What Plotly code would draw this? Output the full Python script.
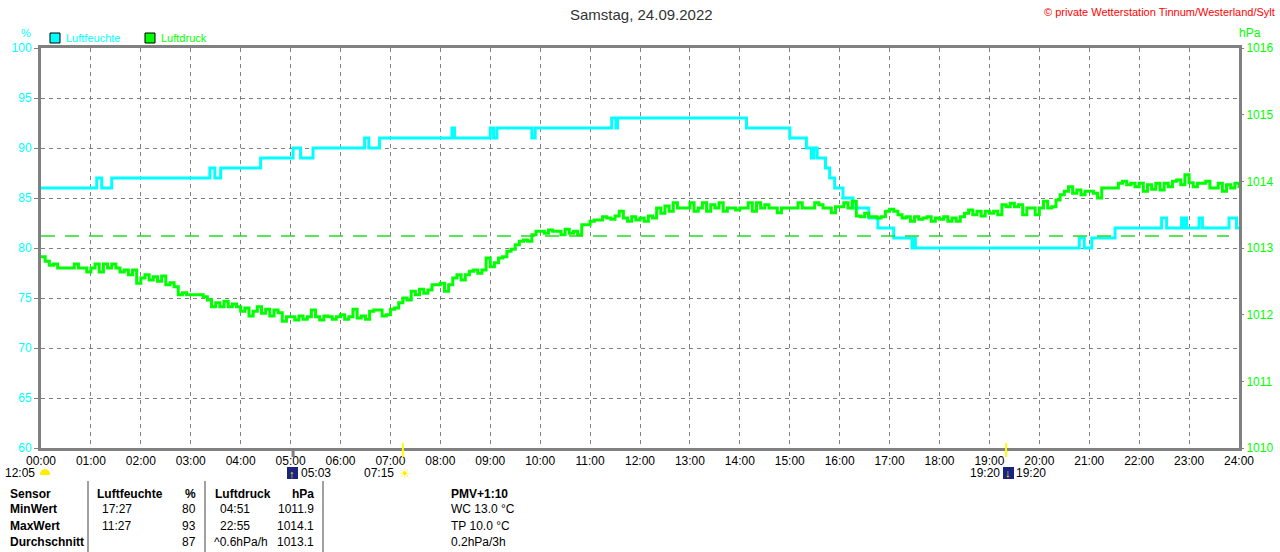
import plotly.graph_objects as go

# Luftfeuchte (%), Stufenwerte: Zeitpunkt der Änderung -> neuer Wert
feuchte_zeit = ["00:00", "01:07", "01:13", "01:25", "03:23", "03:29", "03:36", "04:24",
                "05:03", "05:12", "05:27", "06:29", "06:34", "06:47", "08:14", "08:17",
                "09:00", "09:04", "09:08", "09:50", "09:54", "11:26", "11:31", "11:33",
                "14:08", "15:00", "15:20", "15:26", "15:29", "15:33", "15:43", "15:48",
                "15:54", "16:04", "16:16", "16:35", "16:46", "17:05", "17:27", "17:29",
                "17:31", "20:48", "20:54", "21:03", "21:31", "22:27", "22:33", "22:51",
                "22:53", "22:55", "22:57", "23:12", "23:16", "23:48", "23:57", "24:00"]
feuchte_wert = [86, 87, 86, 87, 88, 87, 88, 89,
                90, 89, 90, 91, 90, 91, 92, 91,
                92, 91, 92, 91, 92, 93, 92, 93,
                92, 91, 90, 89, 90, 89, 88, 87,
                86, 85, 84, 83, 82, 81, 80, 81,
                80, 81, 80, 81, 82, 83, 82, 83,
                82, 83, 82, 83, 82, 83, 82, 82]

# Luftdruck (hPa), alle 5 Minuten, eine Zeile pro Stunde
druck_stunden = [
    [1012.87, 1012.80, 1012.74, 1012.76, 1012.70, 1012.70, 1012.70, 1012.70, 1012.76, 1012.70, 1012.70, 1012.64],
    [1012.70, 1012.76, 1012.64, 1012.76, 1012.70, 1012.76, 1012.70, 1012.64, 1012.67, 1012.60, 1012.67, 1012.47],
    [1012.55, 1012.60, 1012.52, 1012.57, 1012.50, 1012.58, 1012.45, 1012.48, 1012.42, 1012.30, 1012.33, 1012.30],
    [1012.30, 1012.30, 1012.30, 1012.27, 1012.22, 1012.12, 1012.18, 1012.12, 1012.20, 1012.12, 1012.16, 1012.12],
    [1012.05, 1012.10, 1011.98, 1012.05, 1012.12, 1012.02, 1012.08, 1011.98, 1012.07, 1012.03, 1011.90, 1011.97],
    [1011.97, 1011.92, 1011.98, 1011.93, 1011.97, 1012.07, 1011.97, 1011.92, 1011.98, 1011.97, 1011.93, 1011.97],
    [1012.00, 1011.93, 1011.97, 1012.08, 1011.95, 1011.98, 1011.93, 1012.05, 1012.07, 1012.07, 1011.98, 1012.00],
    [1012.08, 1012.10, 1012.18, 1012.25, 1012.22, 1012.35, 1012.30, 1012.38, 1012.32, 1012.37, 1012.45, 1012.45],
    [1012.47, 1012.35, 1012.45, 1012.55, 1012.60, 1012.52, 1012.60, 1012.65, 1012.67, 1012.62, 1012.67, 1012.85],
    [1012.72, 1012.78, 1012.85, 1012.87, 1012.95, 1012.98, 1013.05, 1013.10, 1013.12, 1013.10, 1013.20, 1013.25],
    [1013.25, 1013.22, 1013.27, 1013.25, 1013.25, 1013.20, 1013.28, 1013.22, 1013.25, 1013.20, 1013.35, 1013.35],
    [1013.40, 1013.42, 1013.42, 1013.47, 1013.45, 1013.43, 1013.48, 1013.55, 1013.45, 1013.40, 1013.47, 1013.42],
    [1013.45, 1013.40, 1013.48, 1013.45, 1013.60, 1013.52, 1013.63, 1013.55, 1013.68, 1013.60, 1013.60, 1013.60],
    [1013.68, 1013.55, 1013.60, 1013.68, 1013.55, 1013.65, 1013.60, 1013.68, 1013.55, 1013.60, 1013.60, 1013.57],
    [1013.60, 1013.60, 1013.68, 1013.55, 1013.68, 1013.60, 1013.65, 1013.60, 1013.60, 1013.53, 1013.60, 1013.60],
    [1013.60, 1013.60, 1013.68, 1013.60, 1013.60, 1013.60, 1013.68, 1013.65, 1013.60, 1013.60, 1013.53, 1013.62],
    [1013.62, 1013.68, 1013.60, 1013.70, 1013.48, 1013.47, 1013.52, 1013.47, 1013.47, 1013.45, 1013.47, 1013.55],
    [1013.58, 1013.55, 1013.50, 1013.45, 1013.47, 1013.40, 1013.47, 1013.43, 1013.45, 1013.47, 1013.40, 1013.45],
    [1013.43, 1013.47, 1013.40, 1013.45, 1013.40, 1013.47, 1013.52, 1013.57, 1013.50, 1013.55, 1013.48, 1013.55],
    [1013.52, 1013.55, 1013.50, 1013.65, 1013.62, 1013.67, 1013.62, 1013.65, 1013.50, 1013.60, 1013.60, 1013.50],
    [1013.60, 1013.70, 1013.60, 1013.62, 1013.72, 1013.80, 1013.85, 1013.92, 1013.82, 1013.87, 1013.80, 1013.85],
    [1013.85, 1013.82, 1013.75, 1013.90, 1013.90, 1013.90, 1013.90, 1013.97, 1014.00, 1013.95, 1013.97, 1013.92],
    [1013.97, 1013.85, 1013.95, 1013.88, 1013.97, 1013.87, 1013.97, 1013.92, 1014.00, 1014.02, 1013.95, 1014.10],
    [1013.98, 1013.92, 1013.97, 1013.97, 1014.00, 1013.90, 1013.90, 1013.97, 1013.85, 1013.95, 1013.90, 1013.97],
]
druck_ende = 1013.90
druck_mittel = 1013.18

stunden_labels = ["%02d:00" % h for h in range(25)]

tabelle = [
    ["Sensor", "Luftfeuchte", "%", "Luftdruck", "hPa", "PMV+1:10"],
    ["MinWert", "17:27", "80", "04:51", "1011.9", "WC 13.0 °C"],
    ["MaxWert", "11:27", "93", "22:55", "1014.1", "TP 10.0 °C"],
    ["Durchschnitt", "", "87", "^0.6hPa/h", "1013.1", "0.2hPa/3h"],
]

CYAN = "#00ffff"
GRUEN = "#00ff00"
GRAU = "#808080"

W, H = 1280, 552
L, R, T, B = 41, 41, 48, 104


def px(x):
    return (x - L) / (W - L - R)


def py(y):
    return (H - B - y) / (H - T - B)


def in_stunden(s):
    h, m = s.split(":")
    return int(h) + int(m) / 60


druck = [v for zeile in druck_stunden for v in zeile] + [druck_ende]
druck_x = [i * 5 / 60 for i in range(len(druck))]
feuchte_x = [in_stunden(t) for t in feuchte_zeit]

fig = go.Figure()
fig.add_trace(go.Scatter(x=feuchte_x, y=feuchte_wert, mode="lines", line_shape="hv",
                         line=dict(color=CYAN, width=3), yaxis="y"))
fig.add_trace(go.Scatter(x=druck_x, y=druck, mode="lines", line_shape="hv",
                         line=dict(color=GRUEN, width=3), yaxis="y2"))

shapes = []
# Mittelwert Luftdruck
shapes.append(dict(type="line", xref="x", yref="y2", x0=0, x1=23.8, y0=druck_mittel, y1=druck_mittel,
                   line=dict(color="#22dd22", width=1.5, dash="14px,10px")))
# Legende
shapes.append(dict(type="rect", xref="paper", yref="paper", x0=px(50), x1=px(60), y0=py(43), y1=py(33),
                   fillcolor=CYAN, line=dict(color="black", width=1)))
shapes.append(dict(type="rect", xref="paper", yref="paper", x0=px(145), x1=px(155), y0=py(43), y1=py(33),
                   fillcolor=GRUEN, line=dict(color="black", width=1)))
# Mond / Sonne Markierungen
shapes.append(dict(type="line", xref="x", yref="paper", x0=in_stunden("05:03"), x1=in_stunden("05:03"),
                   y0=py(448), y1=py(457), line=dict(color=GRAU, width=3)))
for t in ["07:15", "19:20"]:
    shapes.append(dict(type="line", xref="x", yref="paper", x0=in_stunden(t), x1=in_stunden(t),
                       y0=py(443), y1=py(457), line=dict(color="#ffff00", width=2)))
shapes.append(dict(type="circle", xref="paper", yref="paper", x0=px(40), x1=px(50), y0=py(479), y1=py(469),
                   fillcolor="#ffee00", line=dict(width=0)))
shapes.append(dict(type="rect", xref="paper", yref="paper", x0=px(39), x1=px(51), y0=py(481), y1=py(475),
                   fillcolor="white", line=dict(width=0)))
for x0 in [287, 1003]:
    shapes.append(dict(type="rect", xref="paper", yref="paper", x0=px(x0), x1=px(x0 + 11), y0=py(479), y1=py(467),
                       fillcolor="#1a237e", line=dict(width=0)))
# Tabellenlinien
for x in [88, 205, 323]:
    shapes.append(dict(type="line", xref="paper", yref="paper", x0=px(x), x1=px(x), y0=py(481), y1=py(552),
                       line=dict(color="#a0a0a0", width=2)))

annotations = []


def text(x, y, s, farbe="black", groesse=12, anker="left", fett=False):
    fam = "Liberation Sans"
    if fett:
        s = "<b>" + s + "</b>"
    annotations.append(dict(x=px(x), y=py(y), xref="paper", yref="paper", text=s, showarrow=False,
                            xanchor=anker, yanchor="middle",
                            font=dict(family=fam, size=groesse, color=farbe)))


text(641, 15, "Samstag, 24.09.2022", "#333333", 15, "center")
text(1277, 12, "© private Wetterstation Tinnum/Westerland/Sylt", "#ff0000", 11, "right")
text(64, 38, "Luftfeuchte", CYAN, 11)
text(159, 38, "Luftdruck", GRUEN, 11)
text(26, 33, "%", CYAN, 11, "center")
text(1250, 33, "hPa", GRUEN, 12, "center")

text(37, 473, "12:05", "black", 12, "right")
text(299, 473, "05:03", "black", 12)
text(396, 473, "07:15", "black", 12, "right")
text(405, 473, "☀", "#ffee00", 13, "center")
text(292, 474, "↑", "#ffee00", 11, "center")
text(1008, 473, "↓", "#ffee00", 11, "center")
text(1002, 473, "19:20", "black", 12, "right")
text(1014, 473, "19:20", "black", 12)

zeilen_y = [494, 509, 526, 542]
for i, zeile in enumerate(tabelle):
    y = zeilen_y[i]
    kopf = i == 0
    text(8, y, zeile[0], fett=True)
    text(95 if kopf else 100, y, zeile[1], fett=kopf)
    text(198, y, zeile[2], anker="right", fett=kopf)
    text(213 if kopf else (212 if i == 3 else 218), y, zeile[3], fett=kopf)
    text(316, y, zeile[4], anker="right", fett=kopf)
    text(449, y, zeile[5], fett=kopf)

fig.update_layout(
    width=W, height=H,
    autosize=False,
    margin=dict(l=L, r=R, t=T, b=B, pad=0, autoexpand=False),
    paper_bgcolor="white", plot_bgcolor="white",
    showlegend=False,
    font=dict(family="Liberation Sans", size=12, color="black"),
    xaxis=dict(range=[0, 24], tickvals=list(range(25)), ticktext=stunden_labels, automargin=False,
               showgrid=True, gridcolor=GRAU, gridwidth=1, griddash="4px,4px",
               showline=True, linecolor=GRAU, linewidth=3, mirror=True,
               zeroline=False, ticks="", tickfont=dict(size=12, color="black")),
    yaxis=dict(range=[60, 100], dtick=5, showgrid=True, gridcolor=GRAU, gridwidth=1, griddash="4px,4px",
               showline=True, linecolor=GRAU, linewidth=3, mirror=True, zeroline=False, automargin=False,
               ticks="outside", ticklen=4, tickcolor=GRAU, tickfont=dict(size=12, color=CYAN)),
    yaxis2=dict(range=[1010, 1016], dtick=1, overlaying="y", side="right", showgrid=False,
                zeroline=False, ticks="outside", ticklen=4, tickcolor=GRAU, automargin=False,
                tickfont=dict(size=12, color=GRUEN)),
    shapes=shapes,
    annotations=annotations,
)

# Seitenrand der HTML-Seite entfernen, damit die Grafik bei 0,0 beginnt
fig.write_html("out.html", config={"responsive": False, "displayModeBar": False},
               post_script="document.body.style.margin='0';document.body.style.overflow='hidden';")
